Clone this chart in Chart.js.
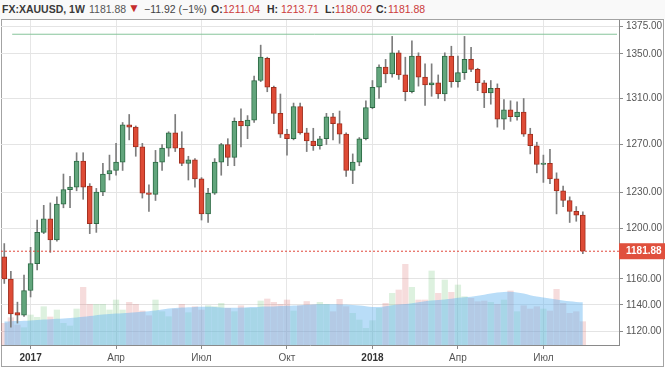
<!DOCTYPE html>
<html>
<head>
<meta charset="utf-8">
<title>FX:XAUUSD, 1W</title>
<script src="https://cdn.jsdelivr.net/npm/chart.js@4.4.1/dist/chart.umd.min.js"></script>
<style>
  html, body { margin: 0; padding: 0; background: #fff; }
  #wrap { position: relative; width: 665px; height: 368px; overflow: hidden; background: #fff; font-family: "Liberation Sans", Arial, sans-serif; }
  #head { position: absolute; left: 0; top: 0; width: 665px; height: 19px; background: #f9f9f9; }
  #head span { position: absolute; top: 3px; font-size: 10.5px; line-height: 13px; white-space: nowrap; }
  #head .k { color: #333; font-weight: bold; }
  #head .v { color: #cc3b3b; }
  #frame { position: absolute; left: 1px; top: 19px; width: 663px; height: 348px; box-sizing: border-box; border: 1px solid #a3a3a3; }
  canvas { position: absolute; left: 0; top: 0; }
</style>
</head>
<body>
<div id="wrap">
  <div id="head">
    <span style="left:2px;color:#3a3a3a;font-weight:bold">FX:XAUUSD, 1W</span>
    <span style="left:89px;color:#555">1181.88</span>
    <span style="left:128px;color:#c62d2d;font-size:12px;top:2px">▼</span>
    <span style="left:144px;color:#444">−11.92 (−1%)</span>
    <span class="k" style="left:211px">O:</span><span class="v" style="left:223px">1211.04</span>
    <span class="k" style="left:267px">H:</span><span class="v" style="left:281px">1213.71</span>
    <span class="k" style="left:325px">L:</span><span class="v" style="left:335px">1180.02</span>
    <span class="k" style="left:376px">C:</span><span class="v" style="left:388px">1181.88</span>
  </div>
  <div id="frame"></div>
  <canvas id="chart" width="665" height="368"></canvas>
</div>
<script>
// weekly bars, Monday of each week from 2016-12-05 to 2018-08-13
const weeks = []
for (let i = 0, d = new Date(Date.UTC(2016, 11, 5)); i < 89; i++, d.setUTCDate(d.getUTCDate() + 7)) {
    weeks.push(d.toISOString().slice(0, 10))
}

const open = [1177.5, 1160, 1134, 1132, 1151, 1172, 1197, 1208, 1191, 1220,
    1232, 1234, 1256, 1235, 1204, 1230, 1245, 1248, 1255, 1287,
    1285, 1268, 1229, 1228, 1255, 1267, 1280, 1267, 1254, 1257,
    1241, 1212, 1229, 1255, 1270, 1259, 1290, 1286, 1291, 1326,
    1346, 1320, 1297, 1279, 1275, 1303, 1280, 1273, 1269, 1275,
    1294, 1288, 1279, 1248, 1255, 1275, 1302, 1320, 1338, 1332,
    1351, 1331, 1316, 1348, 1329, 1322, 1324, 1314, 1348, 1325,
    1333, 1345, 1336, 1324, 1315, 1319, 1292, 1300, 1294, 1298,
    1279, 1269, 1253, 1254, 1241, 1231, 1223, 1214, 1211.04]
const high = [1188, 1166, 1142, 1163, 1185, 1207, 1219, 1221, 1226, 1245,
    1243, 1263, 1263, 1237, 1233, 1254, 1261, 1271, 1289, 1296,
    1286, 1271, 1236, 1265, 1270, 1281, 1296, 1281, 1260, 1258,
    1242, 1233, 1258, 1271, 1275, 1293, 1301, 1295, 1330, 1358,
    1347, 1321, 1314, 1283, 1306, 1306, 1284, 1284, 1277, 1297,
    1297, 1299, 1280, 1262, 1276, 1308, 1326, 1340, 1345, 1366,
    1353, 1347, 1362, 1351, 1341, 1341, 1331, 1351, 1357, 1348,
    1366, 1356, 1337, 1326, 1326, 1323, 1309, 1308, 1307, 1310,
    1284, 1272, 1261, 1266, 1246, 1235, 1226, 1218, 1213.71]
const low = [1156.5, 1123, 1126, 1131, 1146, 1167, 1196, 1181, 1190, 1217,
    1217, 1231, 1224, 1196, 1197, 1227, 1240, 1244, 1248, 1274,
    1260, 1225, 1214, 1223, 1248, 1260, 1264, 1252, 1240, 1234,
    1207, 1205, 1228, 1244, 1252, 1252, 1268, 1275, 1289, 1325,
    1316, 1288, 1276, 1261, 1274, 1279, 1264, 1265, 1266, 1270,
    1274, 1271, 1243, 1237, 1252, 1274, 1301, 1310, 1324, 1329,
    1327, 1308, 1315, 1321, 1304, 1312, 1310, 1308, 1320, 1320,
    1327, 1334, 1317, 1302, 1305, 1285, 1283, 1290, 1291, 1277,
    1262, 1246, 1238, 1237, 1212, 1218, 1205, 1206, 1180.02]
const close = [1160, 1133, 1132, 1151, 1172, 1197, 1208, 1191, 1220, 1232,
    1234, 1256, 1234, 1204, 1230, 1245, 1248, 1255, 1287, 1285,
    1268, 1229, 1228, 1255, 1267, 1280, 1267, 1254, 1257, 1241,
    1212, 1229, 1255, 1270, 1259, 1290, 1286, 1291, 1326, 1347,
    1320, 1297, 1279, 1275, 1303, 1280, 1273, 1269, 1275, 1294,
    1288, 1279, 1248, 1255, 1275, 1302, 1320, 1338, 1332, 1351,
    1331, 1316, 1348, 1329, 1322, 1324, 1314, 1348, 1325, 1333,
    1345, 1336, 1324, 1315, 1319, 1292, 1300, 1294, 1298, 1279,
    1269, 1253, 1254, 1241, 1231, 1223, 1214, 1211, 1181.88]
const volume = [21.7, 27.3, 20, 17.3, 30, 27.7, 38.3, 28, 35, 21.7,
    19, 36, 57.7, 40.7, 40.7, 40.7, 35, 45, 35, 42.7,
    40.7, 34, 29.3, 45, 33.3, 28.3, 36, 40.7, 32.3, 38.3,
    35, 39.3, 38.3, 41.7, 36.7, 33.3, 39.3, 36.7, 36.7, 44,
    46, 42.7, 40.7, 45, 34, 39.3, 43.5, 40, 42.7, 40.7,
    33.3, 45.7, 38.3, 31.7, 25, 16.7, 24.3, 36.7, 41.7, 51.7,
    55, 80.7, 57.7, 45, 45, 74, 51.7, 65, 52.7, 60,
    48.3, 46.7, 43.3, 44, 42.7, 40.7, 45, 54, 33.3, 39.3,
    36, 38.3, 36, 34, 55.7, 41.7, 31.7, 33.3, 23.3]
const volumeMA = [23.5, 23.8, 24, 24.3, 24.6, 25, 25.4, 25.8, 26.2, 26.6,
    27, 27.5, 28.2, 29, 29.8, 30.5, 31, 31.4, 31.8, 32.2,
    32.7, 33.2, 33.8, 34.5, 35.5, 36.5, 37, 37.5, 37.8, 38.1,
    38.3, 38.2, 38, 37.6, 37.3, 37.3, 37.5, 37.8, 38, 38.3,
    38.4, 38.6, 38.9, 39.2, 39.5, 39.8, 40.2, 40.5, 40.7, 40.7,
    40.7, 40.6, 40.5, 40, 39.5, 38.8, 38, 38, 38.8, 39.8,
    40.5, 40.9, 41.8, 42.8, 43.8, 44.5, 45, 45.6, 46.3, 47.2,
    47.8, 48.3, 49.2, 50.3, 51.5, 52.4, 53, 53.3, 52.6, 51.4,
    49.8, 48.5, 47.6, 46.6, 45.5, 44.6, 43.8, 43.1, 42.7]

const tickWeeks = [4, 17, 30, 43, 56, 69, 82]
const tickText = ['2017', 'Апр', 'Июл', 'Окт', '2018', 'Апр', 'Июл']
const priceTicks = [1120, 1140, 1160, 1181.88, 1200, 1230, 1270, 1310, 1350, 1375]
const lastClose = 1181.88
const resistance = 1368

Chart.defaults.font.family = '"Liberation Sans", Arial, sans-serif'
Chart.defaults.font.size = 10

const idx = weeks.map((w, i) => i)
const up = idx.map(i => close[i] >= open[i])
const isYear = t => /^\d{4}$/.test(t)

new Chart(document.getElementById('chart'), {
    type: 'bar',
    data: {
        datasets: [
            {
                type: 'line', label: 'level', yAxisID: 'y', order: 0,
                data: [{x: 1.2, y: resistance}, {x: 93.2, y: resistance}],
                borderColor: '#86c49a', borderWidth: 1, pointRadius: 0
            },
            {
                type: 'line', label: 'last', yAxisID: 'y', order: 0,
                data: [{x: -0.5, y: lastClose}, {x: 93.5, y: lastClose}],
                borderColor: '#e0473b', borderWidth: 1, borderDash: [2, 2], pointRadius: 0
            },
            {
                label: 'body', yAxisID: 'y', order: 1,
                data: idx.map(i => ({x: i, y: [open[i], close[i]]})),
                backgroundColor: up.map(u => u ? '#62a57c' : '#de4b36'),
                borderColor: up.map(u => u ? '#2d6b45' : '#a12f1f'),
                borderWidth: 1, borderSkipped: false,
                barThickness: 5, grouped: false, minBarLength: 1.5
            },
            {
                label: 'wick', yAxisID: 'y', order: 2,
                data: idx.map(i => ({x: i, y: [low[i], high[i]]})),
                backgroundColor: '#7d7d7d',
                barThickness: 1, grouped: false
            },
            {
                type: 'line', label: 'volume MA', yAxisID: 'yv', order: 3,
                data: idx.map(i => ({x: i, y: volumeMA[i]})),
                fill: 'origin', backgroundColor: 'rgba(100,180,240,0.45)',
                borderWidth: 0, pointRadius: 0, cubicInterpolationMode: 'monotone'
            },
            {
                label: 'volume', yAxisID: 'yv', order: 4,
                data: idx.map(i => ({x: i, y: volume[i]})),
                backgroundColor: up.map(u => u ? 'rgba(100,190,110,0.22)' : 'rgba(215,95,95,0.22)'),
                barThickness: 5.6, grouped: false
            }
        ]
    },
    options: {
        responsive: false,
        animation: false,
        events: [],
        layout: {padding: {top: 20, left: 1, right: 0, bottom: 0}},
        plugins: {legend: {display: false}, tooltip: {enabled: false}},
        scales: {
            x: {
                type: 'linear', min: -0.5, max: 93.5, offset: false,
                grid: {offset: false, color: '#e6e6e6', tickColor: '#8a8a8a', tickLength: 4},
                border: {color: '#8a8a8a'},
                afterBuildTicks: s => { s.ticks = tickWeeks.map(v => ({value: v})) },
                afterFit: s => { s.height = 23 },
                ticks: {
                    autoSkip: false, maxRotation: 0, padding: 3,
                    callback: v => tickText[tickWeeks.indexOf(v)],
                    color: ctx => isYear(tickText[ctx.index]) ? '#333' : '#555',
                    font: ctx => ({size: 10, weight: isYear(tickText[ctx.index]) ? 'bold' : 'normal'})
                }
            },
            y: {
                type: 'logarithmic', position: 'right', min: 1109.5, max: 1381.2, beginAtZero: false,
                grid: {
                    color: ctx => ctx.tick && ctx.tick.value === lastClose ? 'rgba(0,0,0,0)' : '#e4e4e4',
                    tickColor: ctx => ctx.tick && ctx.tick.value === lastClose ? 'rgba(0,0,0,0)' : '#8a8a8a',
                    tickLength: 4
                },
                border: {color: '#8a8a8a'},
                afterBuildTicks: s => { s.ticks = priceTicks.map(v => ({value: v})) },
                afterFit: s => { s.width = 46 },
                ticks: {
                    autoSkip: false, padding: 3,
                    callback: v => Number(v).toFixed(2),
                    color: ctx => ctx.tick.value === lastClose ? '#fff' : '#555',
                    font: ctx => ({size: 10, weight: ctx.tick.value === lastClose ? 'bold' : 'normal'}),
                    showLabelBackdrop: ctx => ctx.tick.value === lastClose,
                    backdropColor: '#e0503d',
                    backdropPadding: {left: 7, right: 8, top: 2, bottom: 2}
                }
            },
            yv: {type: 'linear', display: false, min: 0, max: 325}
        }
    }
})
</script>
</body>
</html>
